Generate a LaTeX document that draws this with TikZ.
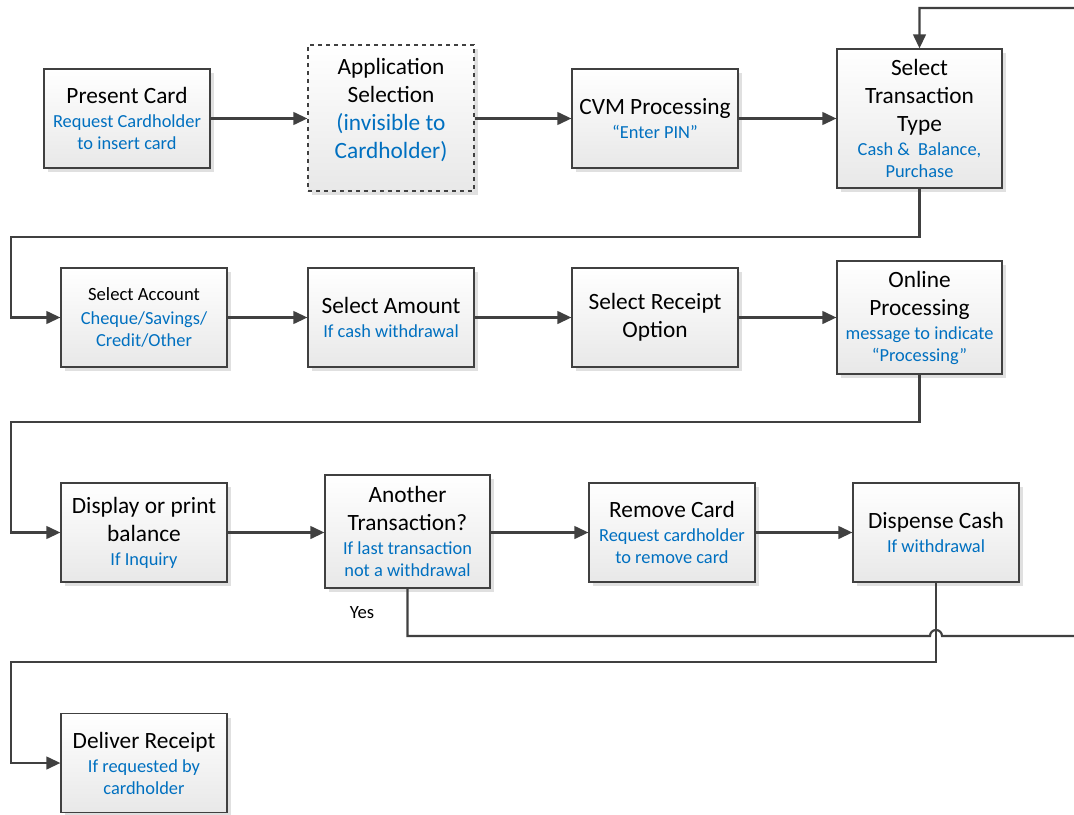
\documentclass[tikz,border=0pt]{standalone}
\usepackage{fontspec}
\setmainfont{Carlito}
\usetikzlibrary{arrows.meta,shadows,calc}
\definecolor{atmblue}{HTML}{0070C0}
\definecolor{atmline}{HTML}{404040}
\newcommand{\hd}{\fontsize{17.5}{21}\selectfont}
\newcommand{\bl}{\fontsize{13.8}{16.5}\selectfont\color{atmblue}}
\newcommand{\sm}{\fontsize{14}{16.5}\selectfont}
\begin{document}
\begin{tikzpicture}[x=0.75pt,y=-0.75pt,
  box/.style={draw=atmline, line width=0.9pt, top color=white, bottom color=black!9,
    drop shadow={shadow xshift=3pt, shadow yshift=-3pt, fill=black!12, opacity=1},
    minimum width=124.5pt, minimum height=74.25pt, align=center, inner sep=2pt, font=\hd},
  flow/.style={draw=atmline, line width=1.6pt, -{Triangle[length=10.5pt,width=9.5pt]}}]
\useasboundingbox (0,0) rectangle (1074,814);
\clip (0,0) rectangle (1074,814);

% first row
\node[box] (present) at (127,118.5) {Present Card\\[-3pt] \bl Request Cardholder\\[-4.5pt] \bl to insert card};
\node[box, dashed, minimum height=109.5pt] (app) at (391,118) {Application\\Selection\\ \color{atmblue}(invisible to\\ \color{atmblue}Cardholder)\\[-6pt]\mbox{}};
\node[box] (cvm) at (655,118.5) {CVM Processing\\[-3pt] \bl ``Enter PIN''};
\node[box, minimum width=123.75pt, minimum height=104.25pt] (stt) at (919.5,118.5) {Select\\Transaction\\Type\\[-3pt] \bl Cash \&\ \ Balance,\\[-4.5pt] \bl Purchase};

% second row
\node[box] (account) at (144,317.5) {\sm Select Account\\[-3pt] \bl Cheque/Savings/\\[-4.5pt] \bl Credit/Other};
\node[box] (amount) at (391,317.5) {Select Amount\\[-3pt] \bl If cash withdrawal};
\node[box] (receipt) at (655,317.5) {Select Receipt\\Option};
\node[box, minimum width=123.75pt, minimum height=84.75pt] (online) at (919.5,317.5) {Online\\Processing\\[-3pt] \bl message to indicate\\[-4.5pt] \bl ``Processing''};

% third row
\node[box] (display) at (144,532.5) {Display or print\\balance\\[-3pt] \bl If Inquiry};
\node[box, minimum width=123.75pt, minimum height=84.75pt] (another) at (407.5,531.5) {Another\\Transaction?\\[-3pt] \bl If last transaction\\[-4.5pt] \bl not a withdrawal};
\node[box] (remove) at (672,532.5) {Remove Card\\[-3pt] \bl Request cardholder\\[-4.5pt] \bl to remove card};
\node[box] (dispense) at (936,532.5) {Dispense Cash\\[-3pt] \bl If withdrawal};

% last row
\node[box] (deliver) at (144,763) {Deliver Receipt\\[-3pt] \bl If requested by\\[-4.5pt] \bl cardholder};

\node[font=\sm] (yes) at (362,613) {Yes};

\coordinate (k1) at (11,237);
\coordinate (k2) at (11,422);
\coordinate (k3) at (11,662);
\coordinate (yesr) at (1085,636);
\coordinate (topr) at (1085,8);

\draw[flow] (present.east) -- (present.east -| app.west);
\draw[flow] (app.east |- cvm.west) -- (cvm.west);
\draw[flow] (cvm.east) -- (cvm.east -| stt.west);
\draw[flow] (stt.south) |- (k1) |- (account.west);

\draw[flow] (account) -- (amount);
\draw[flow] (amount) -- (receipt);
\draw[flow] (receipt) -- (online);
\draw[flow] (online.south) |- (k2) |- (display.west);

\draw[flow] (display.east) -- (display.east -| another.west);
\draw[flow] (another.east |- remove.west) -- (remove.west);
\draw[flow] (remove) -- (dispense);
\draw[flow] (dispense.south) |- (k3) |- (deliver.west);

% yes: back to transaction type, hopping over the cash line
\draw[flow] (another.south) |- ($(dispense.south |- yesr)+(-6,0)$)
  arc[start angle=180, end angle=360, radius=6] -- (yesr) -- (topr) -| (stt.north);
\end{tikzpicture}
\end{document}
